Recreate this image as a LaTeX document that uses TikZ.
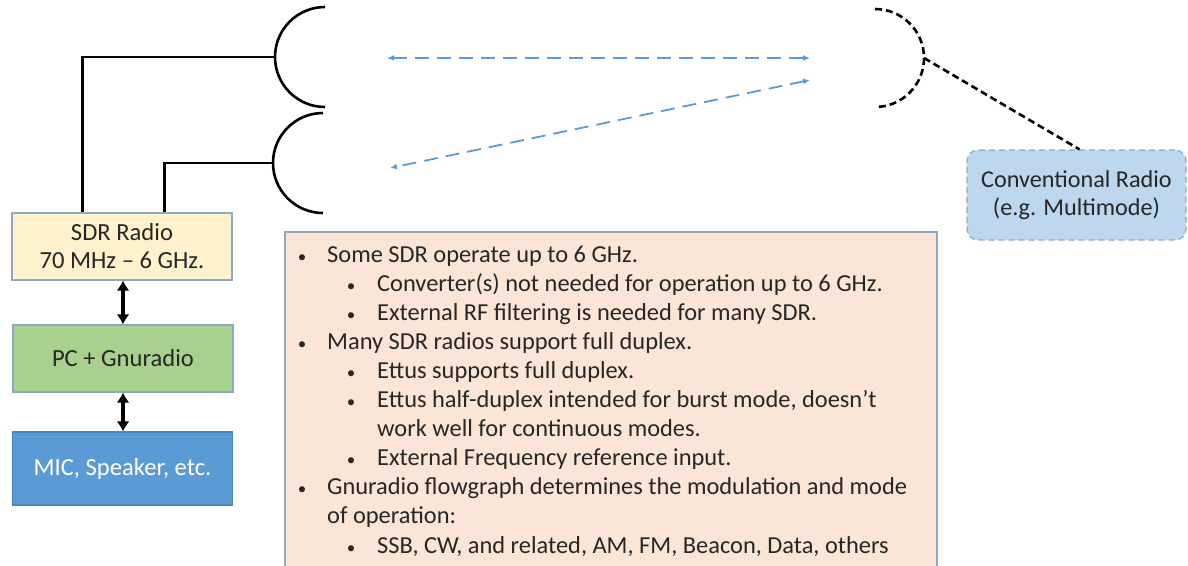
\documentclass[tikz,border=0pt]{standalone}
\usepackage{fontspec}
\setmainfont{Carlito}
\usetikzlibrary{arrows.meta}

\definecolor{sdrfill}{HTML}{FFF2CC}
\definecolor{pcfill}{HTML}{A9D18E}
\definecolor{micfill}{HTML}{5B9BD5}
\definecolor{micedge}{HTML}{4A86BE}
\definecolor{notefill}{HTML}{FBE5D6}
\definecolor{convfill}{HTML}{BDD7EE}
\definecolor{boxedge}{HTML}{8DA9C4}
\definecolor{linkblue}{HTML}{5B9BD5}
\definecolor{ink}{HTML}{262626}

\tikzset{
  block/.style={draw=boxedge, line width=1.2pt, minimum width=220pt, inner sep=0pt,
    align=center, text=ink, font=\fontsize{24.6}{28}\selectfont},
  wire/.style={draw=black, line width=2.6pt},
  dish/.style={draw=black, line width=2.6pt},
  dashdish/.style={draw=black, line width=2.6pt, dash pattern=on 7pt off 4pt},
  link/.style={draw=linkblue, line width=1.8pt, dash pattern=on 14pt off 8pt,
    {Latex[length=7pt,width=6pt]}-{Latex[length=7pt,width=6pt]}},
  busarrow/.style={draw=black, line width=3.2pt,
    {Latex[length=10pt,width=13pt]}-{Latex[length=10pt,width=13pt]}},
  notetext/.style={inner sep=0pt, anchor=base west, text=ink, font=\fontsize{24.4}{29}\selectfont},
  notebullet/.style={inner sep=0pt, anchor=base, text=ink, font=\fontsize{17}{20}\selectfont}
}

\begin{document}
\begin{tikzpicture}[x=1pt, y=-1pt]
\useasboundingbox (0,0) rectangle (1188,565);

% --- equipment chain on the left
\node[block, fill=sdrfill, minimum height=67pt] (sdr) at (122,246.5)
  {SDR Radio\\70 MHz -- 6 GHz.};
\node[block, fill=pcfill, minimum height=67pt] (pc) at (123,358.5)
  {PC + Gnuradio};
\node[block, fill=micfill, draw=micedge, minimum height=73pt, text=white] (mic) at (122.5,468.5)
  {MIC, Speaker, etc.};

\draw[busarrow] (sdr.south -| 123,0) -- (pc.north -| 123,0);
\draw[busarrow] (pc.south -| 123,0) -- (mic.north -| 123,0);

% --- two dish antennas fed from the SDR
\draw[dish] (325,7) arc[start angle=270, end angle=90, radius=50];
\draw[dish] (323,113) arc[start angle=270, end angle=90, radius=50];
\coordinate (feedA) at (275,57);
\coordinate (feedB) at (273,163);
\draw[wire] ([xshift=71pt]sdr.north west) |- (feedA);
\draw[wire] ([xshift=153pt]sdr.north west) |- (feedB);

% --- far-end dish and conventional radio
\draw[dashdish] (875,9) arc[start angle=270, end angle=450, radius=49];
\coordinate (feedC) at (924,58);
\node[draw=boxedge, fill=convfill, line width=1.2pt, dash pattern=on 6pt off 4pt,
  rounded corners=11pt, minimum width=219pt, minimum height=90pt, align=center,
  text=ink, font=\fontsize{24.2}{28}\selectfont] (conv) at (1076.5,195)
  {Conventional Radio\\(e.g. Multimode)};
\draw[dashdish] (feedC) -- ([xshift=3pt]conv.north);

% --- radio paths
\coordinate (txA) at (387,58);
\coordinate (rxA) at (810,58);
\coordinate (txB) at (810,80);
\coordinate (rxB) at (390,168);
\draw[link] (txA) -- (rxA);
\draw[link] (txB) -- (rxB);

% --- notes panel
\path[draw=boxedge, fill=notefill, line width=1.2pt] (285,232) rectangle (937,568);

\node[notebullet] at (302,262) {•};
\node[notetext] at (327,262) {Some SDR operate up to 6 GHz.};
\node[notebullet] at (351,291.1) {•};
\node[notetext] at (377,291.1) {Converter(s) not needed for operation up to 6 GHz.};
\node[notebullet] at (351,320.2) {•};
\node[notetext] at (377,320.2) {External RF filtering is needed for many SDR.};
\node[notebullet] at (302,349.3) {•};
\node[notetext] at (327,349.3) {Many SDR radios support full duplex.};
\node[notebullet] at (351,378.4) {•};
\node[notetext] at (377,378.4) {Ettus supports full duplex.};
\node[notebullet] at (351,407.5) {•};
\node[notetext] at (377,407.5) {Ettus half-duplex intended for burst mode, doesn’t};
\node[notetext] at (377,436.6) {work well for continuous modes.};
\node[notebullet] at (351,465.7) {•};
\node[notetext] at (377,465.7) {External Frequency reference input.};
\node[notebullet] at (302,494.8) {•};
\node[notetext] at (327,494.8) {Gnuradio flowgraph determines the modulation and mode};
\node[notetext] at (327,523.9) {of operation:};
\node[notebullet] at (351,553) {•};
\node[notetext] at (377,553) {SSB, CW, and related, AM, FM, Beacon, Data, others};
\end{tikzpicture}
\end{document}
